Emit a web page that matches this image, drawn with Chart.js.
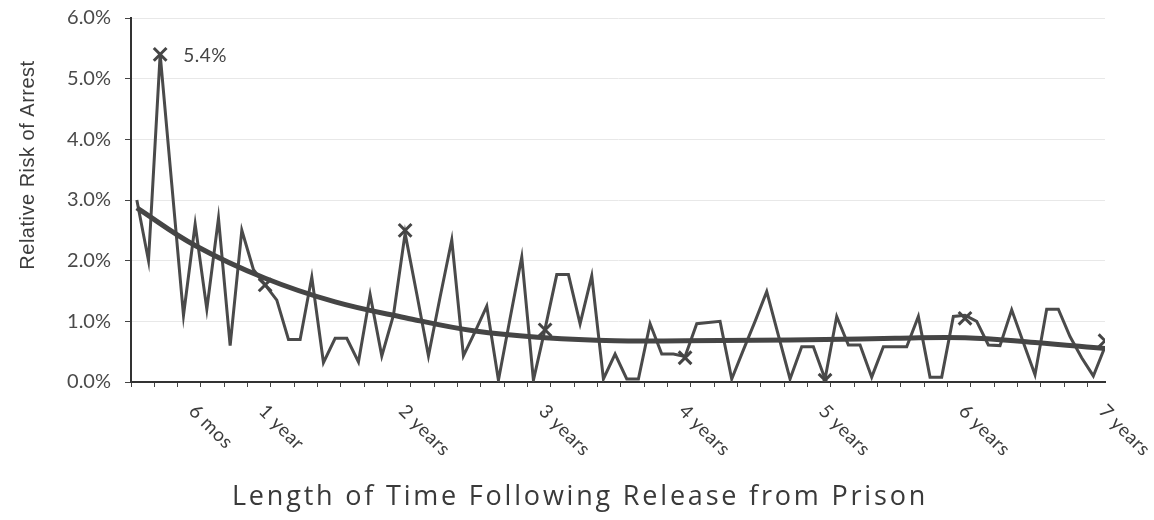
<!DOCTYPE html>
<html>
<head>
<meta charset="utf-8">
<script src="https://cdn.jsdelivr.net/npm/chart.js@4.4.0/dist/chart.umd.min.js"></script>
<style>
  html, body { margin: 0; padding: 0; background: #fff; }
  #wrap { width: 1154px; height: 520px; position: relative; }
</style>
</head>
<body>
<div id="wrap"><canvas id="riskChart"></canvas></div>
<script>
// Relative risk of arrest (%) for each month after release, months 1..84
const riskValues = [
  3.0, 2.0, 5.4, 3.25, 1.1, 2.6, 1.2, 2.7, 0.6, 2.5, 1.85, 1.6,
  1.35, 0.7, 0.7, 1.73, 0.32, 0.72, 0.72, 0.33, 1.44, 0.43, 1.1, 2.45,
  1.45, 0.43, 1.4, 2.34, 0.43, 0.83, 1.25, 0.03, 1.05, 2.06, 0.03, 0.88,
  1.77, 1.77, 0.96, 1.75, 0.05, 0.46, 0.05, 0.05, 0.96, 0.46, 0.46, 0.42,
  0.96, 0.98, 1.0, 0.05, 0.53, 1.0, 1.49, 0.77, 0.05, 0.58, 0.58, 0.05,
  1.08, 0.61, 0.61, 0.08, 0.58, 0.58, 0.58, 1.08, 0.08, 0.08, 1.08, 1.1,
  1.0, 0.61, 0.6, 1.19, 0.65, 0.12, 1.2, 1.2, 0.75, 0.4, 0.1, 0.58
];
const months = riskValues.map((v, i) => i + 1);

// smoothed trend line, read at a few months
const trendMonths = [1, 6, 12, 18, 24, 30, 36, 42, 48, 54, 60, 66, 72, 78, 84];
const trendValues = [2.87, 2.25, 1.71, 1.32, 1.06, 0.84, 0.73, 0.68, 0.68, 0.69, 0.7, 0.72, 0.73, 0.65, 0.55];

// X markers
const markMonths = [3, 12, 24, 36, 48, 60, 72, 84];
const markValues = [5.4, 1.6, 2.5, 0.86, 0.4, 0.03, 1.05, 0.68];

// x axis labels
const yearTickMonths = [6, 12, 24, 36, 48, 60, 72, 84];
const yearTickLabels = ['6 mos', '1 year', '2 years', '3 years', '4 years', '5 years', '6 years', '7 years'];

const ink = '#454545';

const textPlugin = {
  id: 'textPlugin',
  afterDraw(chart) {
    const { ctx, chartArea } = chart;
    const x = chart.scales.x;
    const y = chart.scales.y;
    ctx.save();

    // slanted x labels
    ctx.font = '19px Lato';
    ctx.letterSpacing = '0.5px';
    ctx.fillStyle = '#3c3c3c';
    ctx.textAlign = 'left';
    ctx.textBaseline = 'middle';
    yearTickMonths.forEach((m, i) => {
      const px = x.getPixelForValue(m);
      ctx.save();
      ctx.translate(px - 3, chartArea.bottom + 26);
      ctx.rotate(Math.PI / 4);
      ctx.fillText(yearTickLabels[i], 0, 0);
      ctx.restore();
    });

    // peak value label
    ctx.font = '19px Lato';
    ctx.fillStyle = '#444';
    ctx.fillText(markValues[0].toFixed(1) + '%', x.getPixelForValue(markMonths[0]) + 23, y.getPixelForValue(markValues[0]) + 1);

    // axis titles
    ctx.fillStyle = '#3a3a3a';
    ctx.font = '27px "Open Sans"';
    ctx.letterSpacing = '2.8px';
    ctx.textAlign = 'center';
    ctx.fillText('Length of Time Following Release from Prison', 580, 497);

    ctx.save();
    ctx.translate(28, 165);
    ctx.rotate(-Math.PI / 2);
    ctx.font = '20px "Liberation Sans"';
    ctx.letterSpacing = '0.5px';
    ctx.fillStyle = '#3c3c3c';
    ctx.fillText('Relative Risk of Arrest', 0, 0);
    ctx.restore();

    ctx.restore();
  }
};

new Chart(document.getElementById('riskChart'), {
  type: 'line',
  data: {
    datasets: [
      {
        label: 'Monthly risk',
        data: months.map((m, i) => ({ x: m, y: riskValues[i] })),
        borderColor: '#4a4a4a',
        borderWidth: 3,
        pointRadius: 0,
        tension: 0,
        order: 3
      },
      {
        label: 'Trend',
        data: trendMonths.map((m, i) => ({ x: m, y: trendValues[i] })),
        borderColor: ink,
        borderWidth: 5,
        pointRadius: 0,
        tension: 0.4,
        order: 2
      },
      {
        label: 'Markers',
        data: markMonths.map((m, i) => ({ x: m, y: markValues[i] })),
        showLine: false,
        pointStyle: 'crossRot',
        pointRadius: 9,
        pointBorderWidth: 3,
        borderColor: ink,
        order: 1
      }
    ]
  },
  options: {
    responsive: true,
    maintainAspectRatio: false,
    animation: false,
    layout: { padding: { top: 18, right: 49, left: 0, bottom: 0 } },
    plugins: {
      legend: { display: false },
      tooltip: { enabled: false }
    },
    scales: {
      x: {
        type: 'linear',
        min: 0.5,
        max: 84,
        afterBuildTicks(scale) {
          const t = [];
          for (let v = 0.5; v <= 84; v += 2) t.push({ value: v });
          scale.ticks = t;
        },
        afterFit(scale) { scale.height = 138; },
        ticks: { display: false },
        grid: { drawOnChartArea: false, drawTicks: true, tickLength: 5, color: '#444', lineWidth: 1 },
        border: { display: true, color: '#333', width: 2 }
      },
      y: {
        min: 0,
        max: 6,
        afterFit(scale) {
          scale.width = 131;
          scale.paddingTop = 0;
          scale.paddingBottom = 0;
        },
        ticks: {
          stepSize: 1,
          padding: 14,
          color: '#4a4a4a',
          font: { family: 'Lato', size: 20 },
          callback: v => v.toFixed(1) + '%'
        },
        grid: { color: '#e8e8e8', tickColor: '#444', tickLength: 6, lineWidth: 1 },
        border: { display: true, color: '#333', width: 2 }
      }
    }
  },
  plugins: [textPlugin]
});
</script>
</body>
</html>
